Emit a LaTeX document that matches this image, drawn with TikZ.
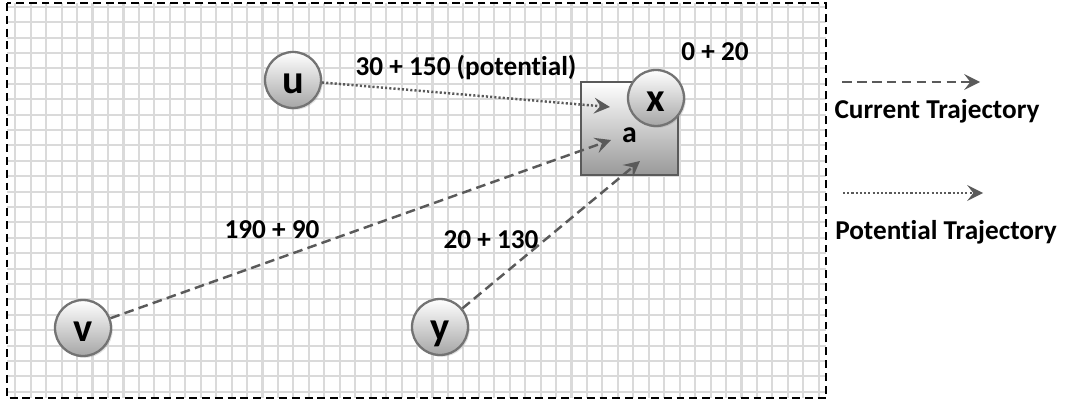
\documentclass[tikz,border=0pt]{standalone}
\usepackage{fontspec}
\setmainfont{Carlito}[Ligatures=NoCommon]
\usetikzlibrary{arrows.meta, shadows}
\usepackage{xcolor}
\definecolor{gridgray}{RGB}{218,218,218}
\definecolor{linegray}{RGB}{90,90,90}
\tikzstyle{vertex} = [circle, minimum size=1.12cm, inner sep=0pt, text height=15.4pt, text depth=0pt, draw=linegray!85, line width=1.3pt, top color=white, bottom color=gray!70, font=\fontsize{23}{23}\selectfont\bfseries, drop shadow={opacity=0.25, shadow xshift=1pt, shadow yshift=-1pt}]
\tikzstyle{cell} = [rectangle, minimum width=1.94cm, minimum height=1.86cm, inner sep=0pt, draw=linegray, line width=1.3pt, top color=white, bottom color=gray!80]
\tikzstyle{txt} = [font=\fontsize{15.5}{17}\selectfont\bfseries, inner sep=0pt]
\tikzstyle{current} = [line width=1.4pt, draw=linegray, dash pattern=on 5.5pt off 3pt, -{Stealth[length=9pt, width=9pt, inset=3.5pt]}]
\tikzstyle{potential} = [line width=1.4pt, draw=linegray, dash pattern=on 1.2pt off 1.2pt, -{Stealth[length=9pt, width=9pt, inset=3.5pt]}]

\begin{document}
\begin{tikzpicture}[x=0.02cm, y=-0.02cm]
    \useasboundingbox (0,0) rectangle (1074,405);
    % grid inside the frame
    \begin{scope}
        \clip (7,3) rectangle (826,398);
        \foreach \gx in {0,...,53}
            \draw [gridgray, line width=1.2pt] (15.3+15.45*\gx,3) -- (15.3+15.45*\gx,398);
        \foreach \gy in {0,...,25}
            \draw [gridgray, line width=1.2pt] (7,6.8+15.4*\gy) -- (826,6.8+15.4*\gy);
    \end{scope}
    \draw [black, line width=0.9pt, dash pattern=on 4.5pt off 2.8pt] (7,3) rectangle (826,398);

    \node (a) [cell, label={[txt, font=\fontsize{17}{17}\selectfont\bfseries, yshift=-0.13cm]center:a}] at (629.5,128.5) {};
    \node (u) [vertex] at (293,80) {u};
    \node (x) [vertex] at (656,98) {x};
    \node (v) [vertex] at (83,328) {v};
    \node (y) [vertex] at (440,327) {y};

    \coordinate (pu) at (610,107);
    \coordinate (pv) at (611,140);
    \coordinate (py) at (640,161);

    \draw [potential] (u) -- (pu);
    \draw [current] (v) -- (pv);
    \draw [current] (y) -- (py);

    \node (lu) [txt] at (466,68) {30 + 150 (potential)};
    \node (lx) [txt] at (715,52) {0 + 20};
    \node (lv) [txt] at (272,230) {190 + 90};
    \node (ly) [txt] at (491,240) {20 + 130};

    % legend
    \coordinate (c1) at (842,82);
    \coordinate (c2) at (980,82);
    \coordinate (p1) at (843,193);
    \coordinate (p2) at (983,193);
    \draw [current] (c1) -- (c2);
    \draw [potential] (p1) -- (p2);
    \node (lc) [txt] at (937,111) {Current Trajectory};
    \node (lp) [txt] at (946,232) {Potential Trajectory};
\end{tikzpicture}
\end{document}
